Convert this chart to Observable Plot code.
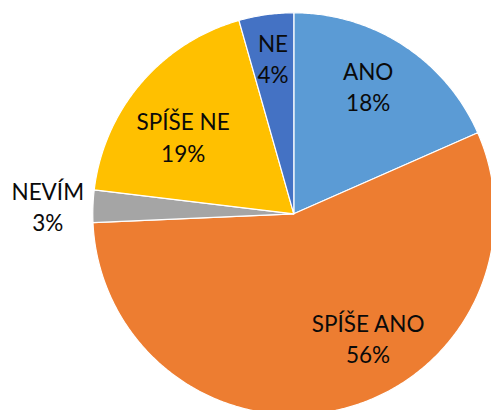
<!DOCTYPE html>
<html>
<head>
<meta charset="utf-8">
<script src="https://cdn.jsdelivr.net/npm/d3@7"></script>
<script src="https://cdn.jsdelivr.net/npm/@observablehq/plot@0.6"></script>
<style>
  html, body { margin: 0; padding: 0; background: #fff; overflow: hidden; }
  #chart svg { display: block; }
</style>
</head>
<body>
<div id="chart"></div>
<script>
// Data
const categories = ["ANO", "SPÍŠE ANO", "NEVÍM", "SPÍŠE NE", "NE"];
const shares = [18.4, 55.9, 2.6, 18.7, 4.4]; // percent
const colors = ["#5B9BD5", "#ED7D31", "#A5A5A5", "#FFC000", "#4472C4"];

// Geometry of slices (clockwise from 12 o'clock), built from the shares
const total = d3.sum(shares);
const slicePts = [];
const labels = [];
let acc = 0;
categories.forEach((cat, i) => {
  const a0 = acc / total * 2 * Math.PI;
  acc += shares[i];
  const a1 = acc / total * 2 * Math.PI;
  slicePts.push({cat, x: 0, y: 0});
  const n = Math.max(2, Math.ceil((a1 - a0) / (Math.PI / 360)));
  for (let k = 0; k <= n; k++) {
    const a = a0 + (a1 - a0) * k / n;
    slicePts.push({cat, x: Math.sin(a), y: Math.cos(a)});
  }
  const am = (a0 + a1) / 2;
  const outside = shares[i] < 3.5;
  const r = outside ? 1.23 : 0.75;
  labels.push({
    cat,
    x: r * Math.sin(am),
    y: r * Math.cos(am),
    text: cat + "\n" + Math.round(shares[i]) + "%"
  });
});

// layout nudges for label placement (best-fit style)
const nudge = {"SPÍŠE ANO": [40, -23], "SPÍŠE NE": [4, 20], "ANO": [-8, -2], "NE": [0, -7], "NEVÍM": [1, 1]};

const cx = 293.3, cy = 213.3, R = 201;

const chart = Plot.plot({
  width: 491,
  height: 410,
  margin: 0,
  style: {background: "white", overflow: "hidden"},
  x: {domain: [-1, 1], range: [cx - R, cx + R], axis: null},
  y: {domain: [-1, 1], range: [cy + R, cy - R], axis: null},
  color: {domain: categories, range: colors},
  marks: [
    Plot.line(slicePts, {
      x: "x", y: "y", z: "cat", fill: "cat",
      stroke: "white", strokeWidth: 1.2, curve: "linear-closed"
    }),
    ...labels.map(l => Plot.text([l], {
      x: "x", y: "y", text: "text",
      dx: (nudge[l.cat] || [0, 0])[0],
      dy: (nudge[l.cat] || [0, 0])[1],
      fontSize: 22.5, lineHeight: 1.4,
      fontFamily: "Lato", fill: "#0a0a0a"
    }))
  ]
});
document.getElementById("chart").appendChild(chart);
</script>
</body>
</html>
